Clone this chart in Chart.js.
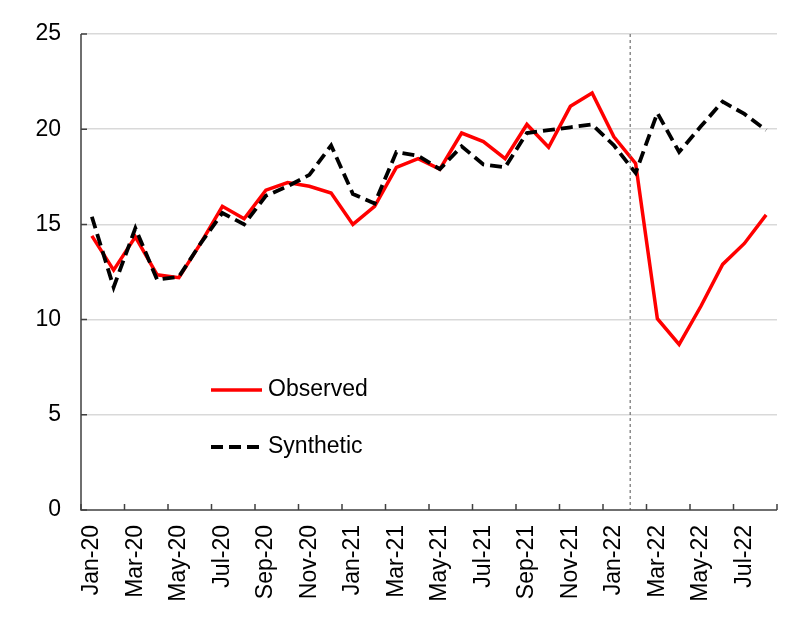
<!DOCTYPE html>
<html>
<head>
<meta charset="utf-8">
<script src="https://cdn.jsdelivr.net/npm/chart.js@4/dist/chart.umd.min.js"></script>
<style>
  html, body { margin: 0; padding: 0; background: #ffffff; }
  #c { display: block; }
</style>
</head>
<body>
<canvas id="c" width="794" height="619"></canvas>
<script>
const months = ["Jan-20","Feb-20","Mar-20","Apr-20","May-20","Jun-20","Jul-20","Aug-20","Sep-20","Oct-20","Nov-20","Dec-20",
                "Jan-21","Feb-21","Mar-21","Apr-21","May-21","Jun-21","Jul-21","Aug-21","Sep-21","Oct-21","Nov-21","Dec-21",
                "Jan-22","Feb-22","Mar-22","Apr-22","May-22","Jun-22","Jul-22","Aug-22"];
const observed = [14.4, 12.6, 14.35, 12.35, 12.2, 14.0, 15.95, 15.3, 16.8, 17.2, 17.0, 16.65,
                  15.0, 15.95, 18.0, 18.45, 17.9, 19.8, 19.35, 18.45, 20.25, 19.05, 21.2, 21.9,
                  19.6, 18.2, 10.05, 8.7, 10.7, 12.9, 14.0, 15.5];
const synthetic = [15.4, 11.7, 14.8, 12.1, 12.25, 14.0, 15.6, 15.0, 16.5, 17.0, 17.6, 19.15,
                   16.6, 16.1, 18.8, 18.6, 17.9, 19.1, 18.15, 18.0, 19.8, 19.95, 20.1, 20.25,
                   19.15, 17.7, 20.85, 18.8, 20.15, 21.45, 20.8, 19.95];
const yTicks = [0, 5, 10, 15, 20, 25];
const seriesNames = ["Observed", "Synthetic"];
const eventPosition = 24.75; // in category units (between Jan-22 and Feb-22)

const FONT = "'Liberation Sans', Arial, sans-serif";
const AXIS_COLOR = '#404040';

const decorPlugin = {
  id: 'decor',
  afterDatasetsDraw(chart) {
    const ctx = chart.ctx;
    const xs = chart.scales.x, ys = chart.scales.y;
    const area = chart.chartArea;
    const step = xs.getPixelForValue(1) - xs.getPixelForValue(0);
    ctx.save();
    // event line
    const ex = xs.getPixelForValue(0) + eventPosition * step;
    ctx.strokeStyle = '#707070';
    ctx.lineWidth = 1.2;
    ctx.setLineDash([3, 3]);
    ctx.beginPath();
    ctx.moveTo(ex, area.top);
    ctx.lineTo(ex, area.bottom);
    ctx.stroke();
    ctx.setLineDash([]);
    // axes lines
    ctx.strokeStyle = AXIS_COLOR;
    ctx.lineWidth = 1.5;
    ctx.beginPath();
    ctx.moveTo(area.left, area.top);
    ctx.lineTo(area.left, area.bottom);
    ctx.lineTo(area.right, area.bottom);
    ctx.stroke();
    // y ticks inside
    ctx.beginPath();
    yTicks.forEach(v => {
      const y = ys.getPixelForValue(v);
      ctx.moveTo(area.left, y);
      ctx.lineTo(area.left + 6, y);
    });
    // x ticks inside at category boundaries every 2
    for (let k = 0; k <= months.length; k += 2) {
      const x = xs.getPixelForValue(0) - step / 2 + k * step;
      ctx.moveTo(x, area.bottom);
      ctx.lineTo(x, area.bottom - 6);
    }
    ctx.stroke();
    // legend
    const lx = area.left + 130, lw = 51;
    const ly1 = area.top + 356, ly2 = area.top + 413;
    const ds = chart.data.datasets;
    ctx.lineWidth = ds[0].borderWidth;
    ctx.strokeStyle = ds[0].borderColor;
    ctx.beginPath(); ctx.moveTo(lx, ly1); ctx.lineTo(lx + lw, ly1); ctx.stroke();
    ctx.lineWidth = ds[1].borderWidth;
    ctx.strokeStyle = ds[1].borderColor;
    ctx.setLineDash(ds[1].borderDash);
    ctx.beginPath(); ctx.moveTo(lx, ly2); ctx.lineTo(lx + 48, ly2); ctx.stroke();
    ctx.setLineDash([]);
    ctx.fillStyle = '#000';
    ctx.font = '23px ' + FONT;
    ctx.textBaseline = 'middle';
    ctx.textAlign = 'left';
    ctx.fillText(ds[0].label, lx + 57, ly1);
    ctx.fillText(ds[1].label, lx + 57, ly2);
    ctx.restore();
  }
};

new Chart(document.getElementById('c'), {
  type: 'line',
  data: {
    labels: months,
    datasets: [
      { label: seriesNames[0], data: observed, borderColor: '#ff0000', borderWidth: 3.5,
        pointRadius: 0, tension: 0, fill: false, order: 1 },
      { label: seriesNames[1], data: synthetic, borderColor: '#000000', borderWidth: 3.8,
        borderDash: [12, 6], pointRadius: 0, tension: 0, fill: false, order: 0 }
    ]
  },
  options: {
    responsive: false,
    animation: false,
    devicePixelRatio: 1,
    layout: { padding: { top: 34, right: 17, left: 0, bottom: 0 } },
    plugins: { legend: { display: false }, tooltip: { enabled: false } },
    scales: {
      x: {
        offset: true,
        grid: { display: false, drawTicks: false },
        border: { display: false },
        afterFit: s => { s.height = 109; s.paddingLeft = 0; s.paddingRight = 0; },
        ticks: {
          autoSkip: false, maxRotation: 90, minRotation: 90, padding: 15,
          color: '#000', font: { family: FONT, size: 23 },
          callback: function(v, i) { return i % 2 === 0 ? months[i] : ''; }
        }
      },
      y: {
        min: 0, max: 25,
        afterFit: s => { s.width = 81; s.paddingTop = 0; s.paddingBottom = 0; },
        afterBuildTicks: s => { s.ticks = yTicks.map(v => ({ value: v })); },
        grid: { color: ctx => ctx.tick && ctx.tick.value === 0 ? 'rgba(0,0,0,0)' : '#d9d9d9', lineWidth: 1.5, drawTicks: false },
        border: { display: false },
        ticks: { padding: 20, color: '#000', font: { family: FONT, size: 23 } }
      }
    }
  },
  plugins: [decorPlugin]
});
</script>
</body>
</html>
